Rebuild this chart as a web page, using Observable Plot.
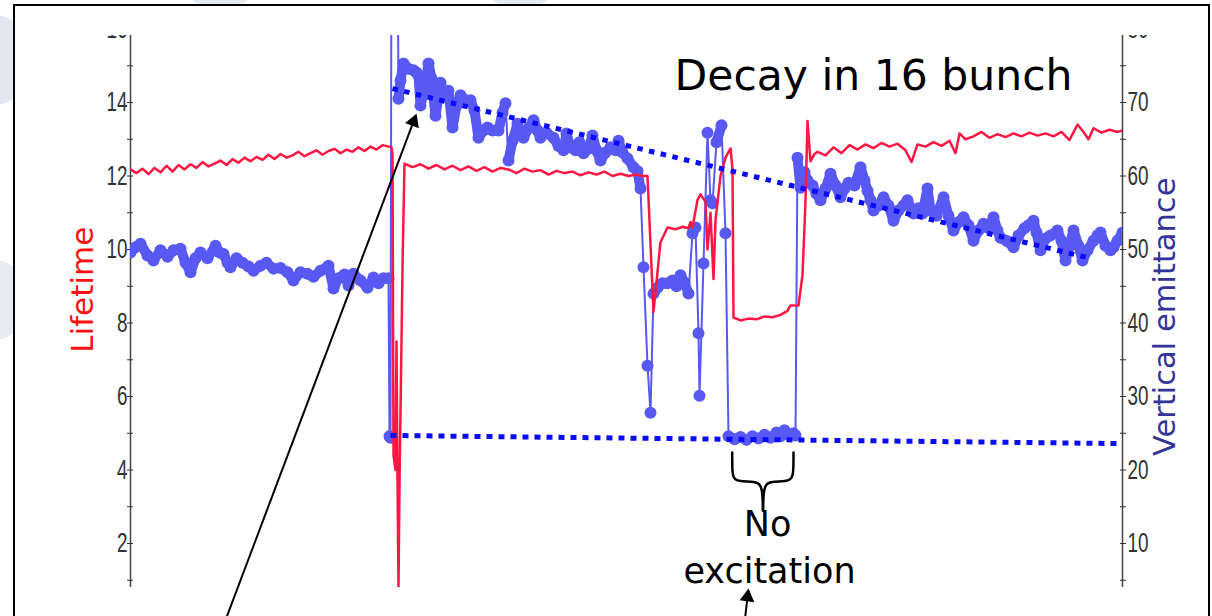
<!DOCTYPE html>
<html><head><meta charset="utf-8">
<script src="https://cdn.jsdelivr.net/npm/d3@7"></script>
<script src="https://cdn.jsdelivr.net/npm/@observablehq/plot@0.6"></script>
<style>
html,body{margin:0;padding:0;width:1212px;height:616px;overflow:hidden;background:#fff;}
#bg{position:absolute;left:0;top:0;width:1212px;height:616px;
 background:
 radial-gradient(circle at -10px 60px,#e3e8f1 0 45px,transparent 46px),
 radial-gradient(circle at -10px 300px,#e6ebf3 0 40px,transparent 41px),
 radial-gradient(circle at 220px -30px,#e6ebf3 0 40px,transparent 41px),
 radial-gradient(circle at 520px -30px,#e6ebf3 0 40px,transparent 41px);}
#frame{position:absolute;left:13px;top:4px;width:1197px;height:700px;border:2.5px solid #000;background:#fff;box-sizing:border-box;}
#chart{position:absolute;left:0;top:0;}
#chart svg{clip-path: inset(35px 0 0 0);}
</style></head>
<body><div id="bg"></div><div id="frame"></div><div id="chart"></div>
<script>
// ---- data: sample index (time) and lifetime values (left axis) ----
const lifeT = [0,6,12,18,24,30,36,42,48,54,60,66,72,78,84,90,96,102,108,114,120,126,132,138,144,150,156,162,168,174,180,186,192,198,204,210,216,222,228,234,240,246,252,258,
 261,262,263,265,266,267,268,269,272,274,
 282,290,298,306,314,322,330,338,346,354,362,370,378,386,394,402,410,418,426,434,442,450,458,466,474,482,490,498,506,512,517,
 523,530,537,545,552,558,560,562,567,570,575,577,580,583,585,590,595,600,602,603,610,618,626,634,642,650,657,660,668,672,675,677,680,684,
 687,695,703,711,719,727,735,743,751,759,767,775,781,787,795,803,811,819,825,829,835,843,851,859,867,875,883,891,899,907,915,923,931,939,947,953,958,963,971,979,987,992];
const lifeV = [12.18,12.08,12.20,12.05,12.22,12.10,12.28,12.12,12.30,12.18,12.32,12.22,12.38,12.26,12.34,12.42,12.30,12.46,12.36,12.50,12.40,12.52,12.44,12.58,12.46,12.60,12.50,12.56,12.66,12.54,12.62,12.70,12.58,12.68,12.74,12.62,12.72,12.66,12.78,12.68,12.80,12.72,12.84,12.80,
 12.78,12.6,4.4,4.0,7.5,3.8,0.8,3.6,9.5,12.34,
 12.24,12.32,12.20,12.30,12.18,12.28,12.16,12.26,12.14,12.24,12.12,12.22,12.18,12.08,12.20,12.12,12.16,12.04,12.14,12.08,12.12,12.02,12.10,12.04,12.12,12.00,12.06,12.00,12.04,12.00,12.00,
 8.3,10.2,10.6,10.55,10.62,10.58,10.75,10.60,11.35,11.5,11.3,10.0,11.0,9.2,10.8,12.0,12.5,12.75,12.2,8.15,8.07,8.12,8.10,8.18,8.16,8.22,8.33,8.48,8.48,9.3,11.3,13.5,12.4,12.6,
 12.66,12.56,12.78,12.62,12.84,12.72,12.86,12.76,12.90,12.80,12.88,12.70,12.38,12.86,12.80,12.92,12.82,12.96,12.62,13.16,13.00,13.08,13.20,13.04,13.14,13.06,13.16,13.08,13.18,13.10,13.16,13.08,13.20,12.98,13.40,13.20,13.00,13.30,13.18,13.26,13.20,13.24];

// ---- data: vertical emittance (right axis) ----
const emitT = [0,5,10,17,23,30,37,43,50,55,60,65,70,77,85,89,93,97,100,106,112,118,123,130,136,143,150,157,163,170,177,183,190,198,203,208,214,218,223,230,237,243,248,253,258,
 259,260,261,267,
 268,270,273,278,283,286,288,290,294,298,301,305,310,314,318,322,326,330,335,340,344,348,353,357,362,368,372,375,378,382,387,390,393,398,403,407,410,416,423,428,433,436,440,445,449,453,458,462,466,470,475,480,485,488,492,497,503,507,510,
 513,517,520,523,527,532,537,542,546,550,554,558,562,565,568,569,573,577,580,582,586,591,595,
 598,604,610,616,622,628,634,640,646,650,654,658,663,665,
 667,670,674,677,682,686,690,695,700,705,710,714,718,724,730,734,737,740,743,748,753,758,763,768,773,777,783,788,792,797,800,806,813,818,823,828,833,838,843,848,853,858,863,867,870,876,883,888,894,898,903,906,910,915,920,927,931,935,939,943,948,952,957,963,967,970,975,980,983,987,992];
const emitE = [49.6,50.3,50.8,49.2,48.5,49.9,49.0,49.9,50.1,48.2,46.9,48.8,49.6,48.8,50.5,49.6,49.4,48.2,47.6,48.8,48.2,47.7,47.1,47.8,48.2,47.4,47.5,46.9,45.8,46.9,46.7,46.3,47.1,47.8,44.7,46.1,46.6,45.1,46.7,45.8,44.8,46.2,45.4,46.1,46.1,
 24.6,24.4,95,95,
 70.5,73.0,75.3,74.6,74.4,74.1,73.7,69.6,71.9,75.3,73.3,68.2,72.7,70.8,71.6,66.6,69.6,71.0,70.3,70.3,68.9,65.2,66.2,66.6,66.2,66.2,68.6,69.9,62.1,64.8,67.1,65.5,65.2,66.5,67.6,66.2,65.2,65.9,65.2,64.1,63.5,65.8,63.9,63.5,64.6,63.1,63.7,65.5,63.5,62.1,63.2,63.9,63.5,64.8,63.2,62.4,61.2,60.7,58.3,
 47.6,34.2,27.8,44.0,44.8,45.4,45.4,45.8,45.0,46.5,45.5,44.0,52.2,53.0,38.6,30.1,48.1,65.9,56.7,56.3,64.6,66.9,52.2,
 24.6,24.2,24.5,24.1,24.6,24.3,24.8,24.4,25.1,24.6,25.4,24.8,25.0,24.7,
 62.5,58.4,60.5,59.4,58.7,57.6,56.7,58.3,60.3,58.7,57.1,58.3,59.1,58.7,61.2,59.4,58.0,56.7,55.3,56.0,57.1,56.0,53.9,55.3,56.0,56.7,54.9,55.6,54.9,58.3,55.3,54.6,57.1,54.6,52.6,53.7,54.4,53.3,51.2,52.6,53.5,52.9,54.4,52.6,51.6,51.2,50.3,51.9,52.9,53.3,53.9,52.3,49.9,51.5,51.9,52.6,51.2,48.5,50.5,52.6,50.5,48.5,49.9,51.2,51.9,52.3,50.5,49.9,50.3,51.2,52.3];

// dotted guide lines (emittance units)
const trendT = [262, 960], trendE = [71.9, 48.8];
const floorT = [260, 988], floorE = [24.7, 23.6];

// axes
const lifeTicks = [2, 4, 6, 8, 10, 12, 14, 16];
const lifeMinor = [1, 3, 5, 7, 9, 11, 13, 15];
const emitPerLife = 5;

// annotations (lifetime-axis units)
const titleText = "Decay in 16 bunch";
const titleT = [743], titleV = [14.71];
const noteText = ["No", "excitation"], noteT = [637, 639], noteV = [2.50, 1.24];
const braceLT = [601.7, 601.7, 603, 608, 625, 630, 632, 632.5];
const braceRT = [663, 663, 661.5, 656, 640, 635, 633, 632.5];
const braceV = [4.476, 3.96, 3.768, 3.688, 3.688, 3.606, 3.388, 2.898];
const arrowTailT = [92, 613], arrowTailV = [-0.3, -0.4];
const arrowHeadT = [283, 617], arrowHeadV = [13.48, 0.544], arrowAngle = [21, 7];

const life = lifeT.map((t, i) => ({t, v: lifeV[i]}));
const emit = emitT.map((t, i) => ({t, v: emitE[i] / emitPerLife}));
const thick = [];
for (let i = 0; i + 1 < emitT.length; i++) {
  if (Math.abs(emitE[i + 1] - emitE[i]) <= 6) thick.push({t1: emitT[i], v1: emitE[i] / emitPerLife, t2: emitT[i + 1], v2: emitE[i + 1] / emitPerLife});
}
const trend = trendT.map((t, i) => ({t, v: trendE[i] / emitPerLife}));
const floor = floorT.map((t, i) => ({t, v: floorE[i] / emitPerLife}));
const brace = [...braceLT.map((t, i) => ({t, v: braceV[i], s: "L"})), ...braceRT.map((t, i) => ({t, v: braceV[i], s: "R"}))];
const arrows = arrowTailT.map((t, i) => ({t1: t, v1: arrowTailV[i], t2: arrowHeadT[i], v2: arrowHeadV[i], a: arrowAngle[i]}));

const blue = "#5858f2", red = "#ff1744", dotted = "#0a0aff";
const axisFont = "'Liberation Sans Narrow','Liberation Sans',sans-serif";
const handFont = "'DejaVu Sans',sans-serif";

const plot = Plot.plot({
  width: 1212, height: 616,
  marginLeft: 130, marginRight: 90, marginTop: 17.5, marginBottom: 29,
  style: {background: "transparent", fontFamily: axisFont, fontSize: "21px", color: "#333"},
  x: {domain: [0, 992], axis: null},
  y: {domain: [0.803, 16.3], axis: null},
  marks: [
    Plot.ruleX([0, 992], {stroke: "#444", strokeWidth: 1.5}),
    Plot.axisY(lifeTicks, {anchor: "left", tickSize: 6, dx: 3, tickPadding: 0, fontFamily: axisFont, fontSize: 21}),
    Plot.axisY(lifeMinor, {anchor: "left", tickSize: 6, dx: 3, tickFormat: () => ""}),
    Plot.axisY(lifeTicks, {anchor: "right", tickSize: 6, dx: -3, tickPadding: 2, tickFormat: d => String(d * emitPerLife), fontFamily: axisFont, fontSize: 21}),
    Plot.axisY(lifeMinor, {anchor: "right", tickSize: 6, dx: -3, tickFormat: () => ""}),
    // emittance
    Plot.line(emit, {x: "t", y: "v", stroke: blue, strokeWidth: 2, clip: true}),
    Plot.link(thick, {x1: "t1", y1: "v1", x2: "t2", y2: "v2", stroke: blue, strokeWidth: 10, strokeLinecap: "round", clip: true}),
    Plot.dot(emit, {x: "t", y: "v", r: 6, fill: blue, clip: true}),
    // lifetime
    Plot.line(life, {x: "t", y: "v", stroke: red, strokeWidth: 2.5, clip: true}),
    // dotted guides
    Plot.line(trend, {x: "t", y: "v", stroke: dotted, strokeWidth: 5, strokeLinecap: "butt", strokeDasharray: "5.5,6.5"}),
    Plot.line(floor, {x: "t", y: "v", stroke: dotted, strokeWidth: 5, strokeLinecap: "butt", strokeDasharray: "6,6"}),
    // axis titles
    Plot.text(["Lifetime"], {frameAnchor: "left", textAnchor: "middle", dx: -47, dy: -13, rotate: -90, fill: "#ff1010", fontSize: 31, fontFamily: handFont}),
    Plot.text(["Vertical emittance"], {frameAnchor: "right", textAnchor: "middle", dx: 43, dy: 14, rotate: -90, fill: "#333399", fontSize: 30.5, fontFamily: handFont}),
    // annotations
    Plot.text([titleText], {x: () => titleT[0], y: () => titleV[0], fill: "#000", fontSize: 42.5, fontFamily: handFont}),
    Plot.text(noteText, {x: (d, i) => noteT[i], y: (d, i) => noteV[i], fill: "#000", fontSize: 35, fontFamily: handFont}),
    Plot.line(brace, {x: "t", y: "v", z: "s", stroke: "#000", strokeWidth: 2.5, curve: "basis"}),
    Plot.link(arrows, {x1: "t1", y1: "v1", x2: "t2", y2: "v2", stroke: "#000", strokeWidth: 2}),
    Plot.dot(arrows, {x: "t2", y: "v2", symbol: "triangle", r: 5.5, fill: "#000", rotate: "a"})
  ]
});
plot.querySelectorAll('g[aria-label="y-axis tick label"] text').forEach(t => {
  const tr = t.getAttribute("transform") || "";
  t.setAttribute("transform", tr + " scale(0.9,1.3)");
});
document.getElementById("chart").appendChild(plot);
</script>
</body></html>
